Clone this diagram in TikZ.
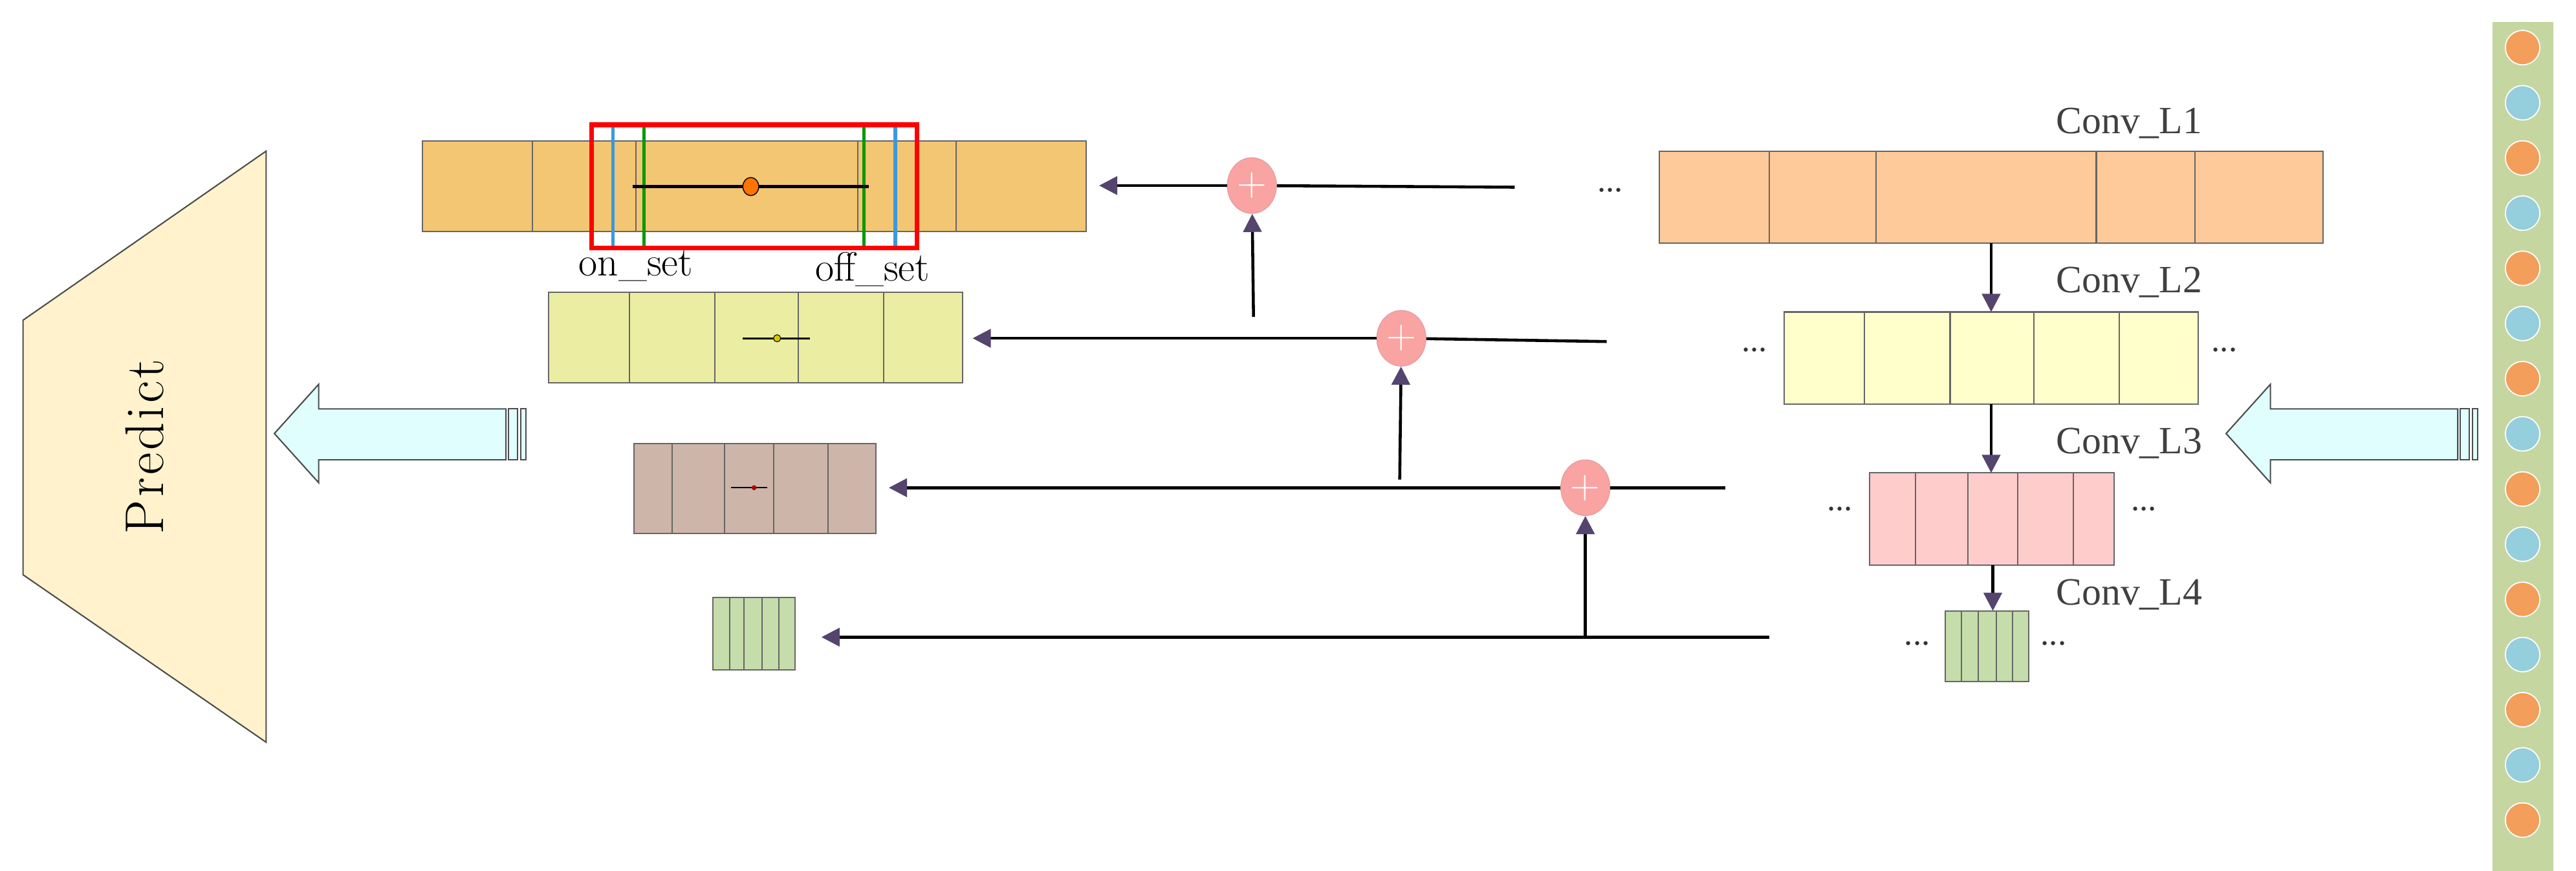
\documentclass[tikz,border=0pt]{standalone}
\usepackage{fontspec}
\newfontfamily\lserif{Liberation Serif}
\usetikzlibrary{arrows.meta,shapes.geometric}
\definecolor{cOrange}{HTML}{F2C673}
\definecolor{cPeach}{HTML}{FFCA99}
\definecolor{cYel}{HTML}{FFFFCC}
\definecolor{cYelG}{HTML}{EBEEA2}
\definecolor{cPink}{HTML}{FFCCCC}
\definecolor{cBrown}{HTML}{CDB5AA}
\definecolor{cGreen}{HTML}{C5DDAA}
\definecolor{cPlus}{HTML}{F9A3A3}
\definecolor{cArr}{HTML}{54446E}
\definecolor{cCyan}{HTML}{E0FEFE}
\definecolor{cPred}{HTML}{FFF2CC}
\definecolor{cDotO}{HTML}{F39E5A}
\definecolor{cDotB}{HTML}{95CEDC}
\definecolor{cStrip}{HTML}{C5D6A1}
\newcommand{\uu}{0.0254cm}
\newcommand{\cellbar}[7]{%
  \node[bar,fill=#6,minimum width={(#4-#2)*\uu},minimum height={(#5-#3)*\uu}] (#1) at ({(#2+#4)/2},{(#3+#5)/2}) {};
  \foreach \d in {#7} {\draw[div] (\d,#3) -- (\d,#5);}}
\begin{document}
\begin{tikzpicture}[x=0.0254cm,y=-0.0254cm,
  bar/.style={draw=gray!80!black,line width=0.6pt,inner sep=0pt,outer sep=0pt},
  div/.style={draw=gray!80!black,line width=0.6pt},
  conn/.style={line width=1.3pt,black},
  arr/.style={conn,-{Triangle[length=8pt,width=8pt,fill=cArr,color=cArr]}},
  plus/.style={ellipse,fill=cPlus,draw=cPlus!80!gray,line width=0.3pt,minimum width={30*\uu},minimum height={34*\uu},inner sep=0pt,text=white,font=\fontsize{18}{18}\selectfont},
  lbl/.style={font=\lserif\fontsize{17}{20}\selectfont,text=black!75},
  dots/.style={font=\lserif\fontsize{15}{18}\selectfont,text=black!80},
  blockarr/.style={draw=black!70,fill=cCyan,line width=0.6pt}]
\useasboundingbox (0,0) rectangle (1568,530.4);
% strip
\fill[cStrip] (1517,13.5) rectangle (1554,530.4);
\foreach \i in {0,...,14}{
  \pgfmathsetmacro{\yy}{29+\i*33.6}
  \ifodd\i \def\cc{cDotB}\else\def\cc{cDotO}\fi
  \fill[\cc,draw=white,line width=0.5pt] (1535.5,\yy) circle (10.5);
}
% predict
\draw[fill=cPred,draw=black!70,line width=0.6pt] (14,195) -- (162,92) -- (162,452) -- (14,350) -- cycle;
\node[rotate=90,font=\fontsize{24}{28}\selectfont] (pred) at (88,272) {P\kern1.2pt r\kern1.2pt e\kern1.2pt d\kern1.2pt i\kern1.2pt c\kern1.2pt t};
% block arrows
\foreach \ox in {0,1188}{
\begin{scope}[xshift=\ox*\uu]
\draw[blockarr] (167,264) -- (194,234) -- (194,249) -- (308,249) -- (308,280) -- (194,280) -- (194,294) -- cycle;
\draw[blockarr] (309.5,249) rectangle (315,280);
\draw[blockarr] (317,249) rectangle (320,280);
\end{scope}}
% row 1
\cellbar{r1}{257}{86}{661}{141}{cOrange}{324,387,522,582}
\draw[cyan!70!blue!80,line width=1.5pt] (373,76) -- (373,151) (545,76) -- (545,151);
\draw[green!60!black,line width=1.5pt] (392,76) -- (392,151) (526,76) -- (526,151);
\draw[red,line width=2pt] (360,76) rectangle (558,151);
\draw[line width=1.2pt] (385,113.6) -- (529,113.6);
\node[ellipse,fill=orange!90!red,draw=black,line width=0.4pt,minimum width=7pt,minimum height=8pt,inner sep=0pt] (c1) at (457,113.6) {};
\node[font=\fontsize{18}{20}\selectfont] (on) at (387,162) {on\_set};
\node[font=\fontsize{18}{20}\selectfont] (off) at (531,164) {off\_set};
\cellbar{L1}{1010}{92}{1414}{148}{cPeach}{1077,1142,1276,1336}
\node[lbl] (t1) at (1296,75) {Conv\_L1};
\node[dots] (d1) at (980,116) {...};
\node[plus] (p1) at (762,113) {+};
\coordinate (s1) at (922,114);
\draw[conn] (s1) -- (p1);
\draw[arr,shorten >=8*\uu] (p1) -- (r1.east|-p1);
% row 2
\cellbar{r2}{334}{178}{586}{233}{cYelG}{383,435,486,538}
\draw[line width=0.8pt] (452,206) -- (493,206);
\fill[yellow!60!olive,draw=black,line width=0.3pt] (473,206) circle (2.2);
\cellbar{L2}{1086}{190}{1338}{246}{cYel}{1135,1187,1238,1290}
\node[lbl] (t2) at (1296,172) {Conv\_L2};
\node[dots] (d2a) at (1068,213) {...};
\node[dots] (d2b) at (1354,213) {...};
\node[plus] (p2) at (853,206) {+};
\coordinate (s2) at (978,208);
\draw[conn] (s2) -- (p2);
\draw[arr,shorten >=6*\uu] (p2) -- (r2.east|-p2);
\coordinate (v1) at (763,193);
\draw[arr] (v1) -- (p1);
% row 3
\cellbar{r3}{386}{270}{533}{325}{cBrown}{409,441,471,504}
\draw[line width=0.6pt] (445,297) -- (467,297);
\fill[red!70!black] (459,297) circle (1.5);
\cellbar{L3}{1138}{288}{1287}{344}{cPink}{1166,1198,1228,1262}
\node[lbl] (t3) at (1296,270) {Conv\_L3};
\node[dots] (d3a) at (1120,310) {...};
\node[dots] (d3b) at (1305,310) {...};
\node[plus] (p3) at (965,297) {+};
\coordinate (s3) at (1050,297);
\draw[conn] (s3) -- (p3);
\draw[arr,shorten >=8*\uu] (p3) -- (r3.east|-p3);
\coordinate (v2) at (852,292);
\draw[arr] (v2) -- (p2);
% row 4
\cellbar{r4}{434}{364}{484}{408}{cGreen}{444,453,464,474}
\cellbar{L4}{1184}{372}{1235}{415}{cGreen}{1194,1204,1215,1225}
\node[lbl] (t4) at (1296,362) {Conv\_L4};
\node[dots] (d4a) at (1167,392) {...};
\node[dots] (d4b) at (1250,392) {...};
\coordinate (s4) at (1077,388);
\coordinate (v3) at (965,388);
\draw[arr,shorten >=16*\uu] (s4) -- (r4.east|-s4);
\draw[arr] (v3) -- (p3);
% down arrows
\draw[arr] (L1.south-|1212,0) -- (L2.north-|1212,0);
\draw[arr] (L2.south-|1212,0) -- (L3.north-|1212,0);
\draw[arr] (L3.south-|1213,0) -- (L4.north-|1213,0);
\end{tikzpicture}
\end{document}
